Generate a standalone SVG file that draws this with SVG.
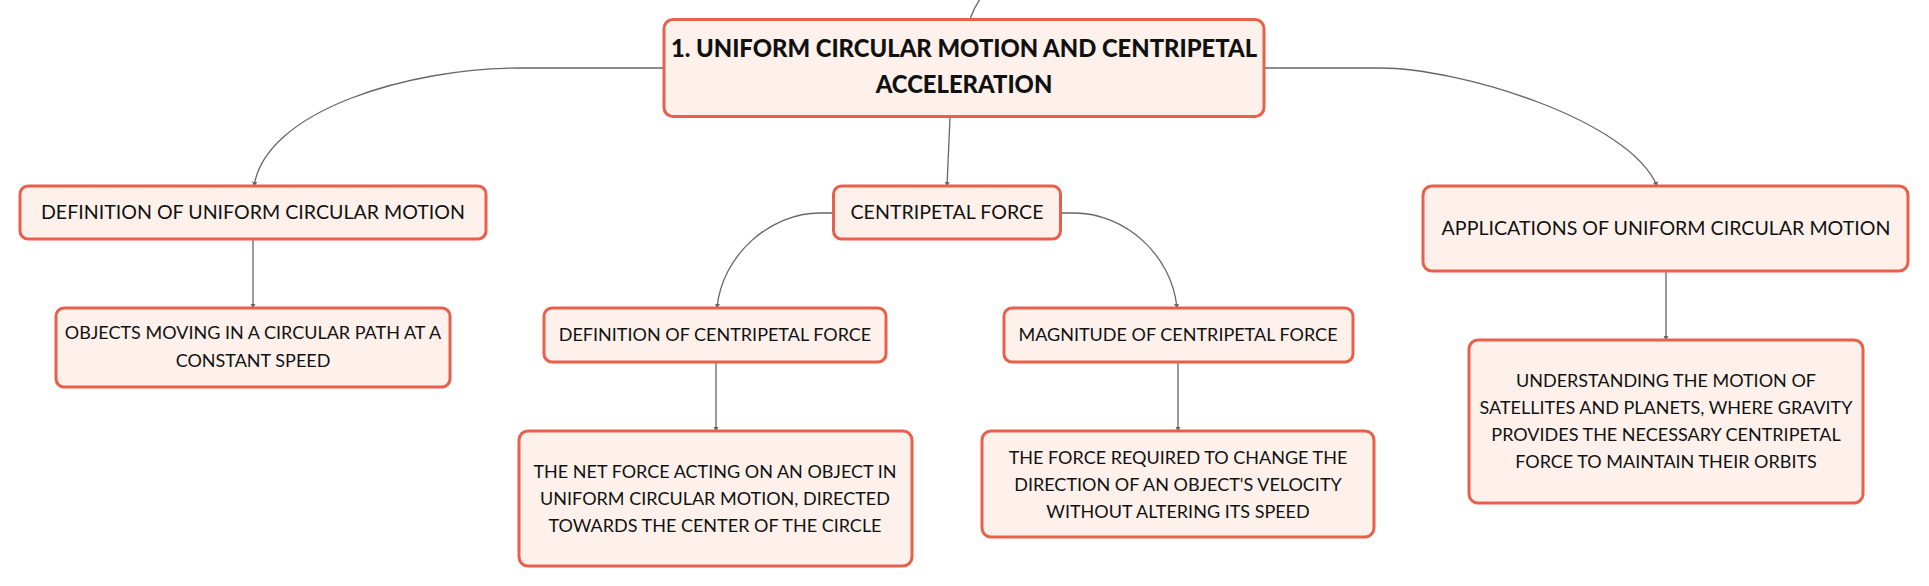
<svg xmlns="http://www.w3.org/2000/svg" width="1929" height="586" viewBox="0 0 1929 586">
<defs>
<style>
.box{fill:#FEF1EC;stroke:#E8604A;stroke-width:3}
.t{font-family:Lato,"Noto Sans","Liberation Sans",sans-serif;font-size:18px;fill:#111;text-anchor:middle}
.t2{font-family:Lato,"Noto Sans","Liberation Sans",sans-serif;font-size:19.6px;fill:#111;text-anchor:middle}
.title{font-family:Lato,"Noto Sans","Liberation Sans",sans-serif;font-size:23.8px;font-weight:900;fill:#111;text-anchor:middle}
.c{fill:none;stroke:#666;stroke-width:1.3}
</style>
<marker id="arr" viewBox="0 0 6 6" refX="5" refY="3" markerWidth="4" markerHeight="4" orient="auto-start-reverse">
<path d="M0,0 L6,3 L0,6 z" fill="#666"/>
</marker>
</defs>
<rect width="1929" height="586" fill="#fff"/>
<g id="connectors">
<path class="c" d="M970,19 Q974,8 980,-1"/>
<path class="c" d="M664,68 L520,68 C410,68 266,110 254,186" marker-end="url(#arr)"/>
<path class="c" d="M1265,68 L1380,68 C1460,68 1630,120 1657,186" marker-end="url(#arr)"/>
<path class="c" d="M950,117 L947,186" marker-end="url(#arr)"/>
<path class="c" d="M253,239 L253,308" marker-end="url(#arr)"/>
<path class="c" d="M833,213 L820,213 C770,213 722,255 717,308" marker-end="url(#arr)"/>
<path class="c" d="M1061,213 L1074,213 C1125,213 1172,255 1177,308" marker-end="url(#arr)"/>
<path class="c" d="M716,362 L716,431" marker-end="url(#arr)"/>
<path class="c" d="M1178,362 L1178,431" marker-end="url(#arr)"/>
<path class="c" d="M1666,271 L1666,340" marker-end="url(#arr)"/>
</g>
<g id="root">
<rect class="box" x="664" y="19.5" width="600" height="97" rx="9"/>
<text class="title" x="964" y="57">1. UNIFORM CIRCULAR MOTION AND CENTRIPETAL</text>
<text class="title" x="964" y="93">ACCELERATION</text>
</g>
<g id="def-ucm">
<rect class="box" x="20" y="186" width="466" height="53" rx="8"/>
<text class="t2" x="253" y="219">DEFINITION OF UNIFORM CIRCULAR MOTION</text>
</g>
<g id="def-ucm-desc">
<rect class="box" x="56" y="308" width="394" height="79" rx="8"/>
<text class="t" x="253" y="339">OBJECTS MOVING IN A CIRCULAR PATH AT A</text>
<text class="t" x="253" y="367">CONSTANT SPEED</text>
</g>
<g id="cf">
<rect class="box" x="833.5" y="186" width="227" height="53" rx="8"/>
<text class="t2" x="947" y="219">CENTRIPETAL FORCE</text>
</g>
<g id="def-cf">
<rect class="box" x="544" y="308" width="342" height="54" rx="8"/>
<text class="t" x="715" y="341">DEFINITION OF CENTRIPETAL FORCE</text>
</g>
<g id="mag-cf">
<rect class="box" x="1004" y="308" width="349" height="54" rx="8"/>
<text class="t" x="1178" y="341">MAGNITUDE OF CENTRIPETAL FORCE</text>
</g>
<g id="def-cf-desc">
<rect class="box" x="519" y="431" width="393" height="135" rx="9"/>
<text class="t" x="715" y="478">THE NET FORCE ACTING ON AN OBJECT IN</text>
<text class="t" x="715" y="505">UNIFORM CIRCULAR MOTION, DIRECTED</text>
<text class="t" x="715" y="532">TOWARDS THE CENTER OF THE CIRCLE</text>
</g>
<g id="mag-cf-desc">
<rect class="box" x="982" y="431" width="392" height="106" rx="9"/>
<text class="t" x="1178" y="464">THE FORCE REQUIRED TO CHANGE THE</text>
<text class="t" x="1178" y="491">DIRECTION OF AN OBJECT'S VELOCITY</text>
<text class="t" x="1178" y="518">WITHOUT ALTERING ITS SPEED</text>
</g>
<g id="apps">
<rect class="box" x="1423" y="186" width="485" height="85" rx="9"/>
<text class="t2" x="1666" y="235">APPLICATIONS OF UNIFORM CIRCULAR MOTION</text>
</g>
<g id="apps-desc">
<rect class="box" x="1469" y="340" width="394" height="163" rx="9"/>
<text class="t" x="1666" y="387">UNDERSTANDING THE MOTION OF</text>
<text class="t" x="1666" y="414">SATELLITES AND PLANETS, WHERE GRAVITY</text>
<text class="t" x="1666" y="441">PROVIDES THE NECESSARY CENTRIPETAL</text>
<text class="t" x="1666" y="468">FORCE TO MAINTAIN THEIR ORBITS</text>
</g>
</svg>
